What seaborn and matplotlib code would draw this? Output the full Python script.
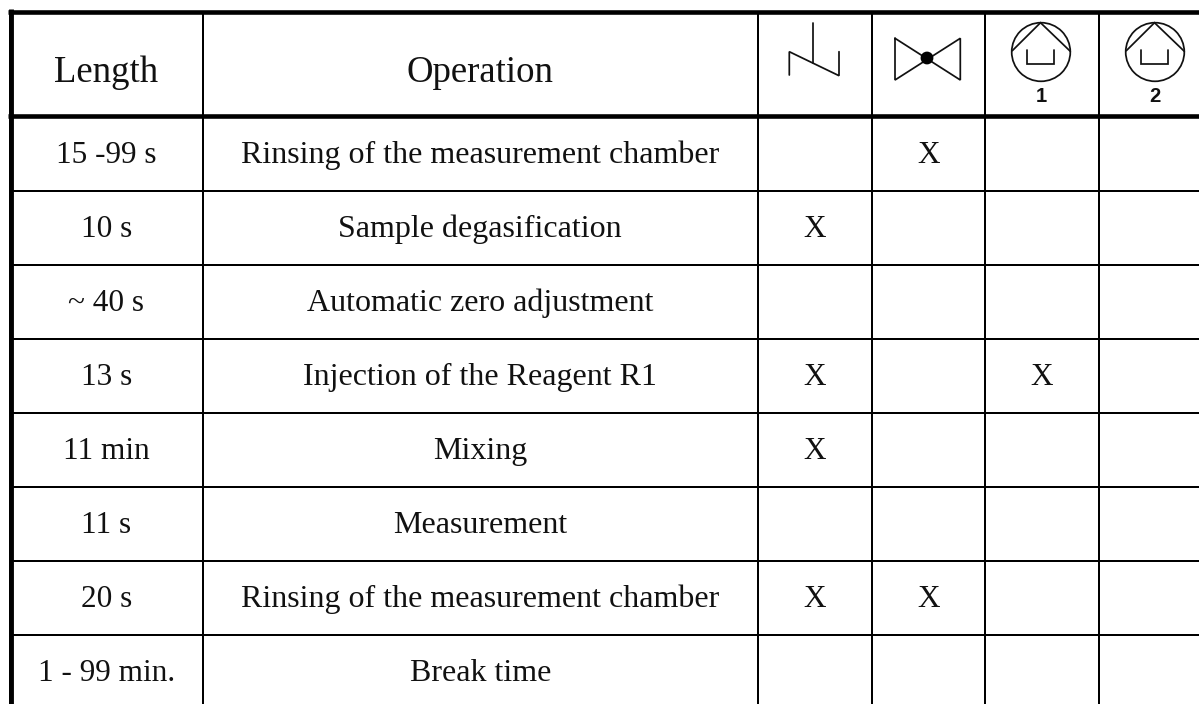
import numpy as np
import seaborn as sns
from matplotlib import pyplot as plt
from matplotlib.colors import ListedColormap
from matplotlib.patches import Circle

lengths = ["15 -99 s", "10 s", "~ 40 s", "13 s", "11 min", "11 s", "20 s", "1 - 99 min."]
operations = [
    "Rinsing of the measurement chamber",
    "Sample degasification",
    "Automatic zero adjustment",
    "Injection of the Reagent R1",
    "Mixing",
    "Measurement",
    "Rinsing of the measurement chamber",
    "Break time",
]
mixer = ["", "X", "", "X", "X", "", "X", ""]
valve = ["X", "", "", "", "", "", "X", ""]
pump_1 = ["", "", "", "X", "", "", "", ""]
pump_2 = ["", "", "", "", "", "", "", ""]
headers = ["Length", "Operation"]

WIDTH, HEIGHT = 1199, 704
INK = "#000000"
THIN = 1.2
THICK = 3.3


def block(fig, x0, x1, y0, y1, labels, size, shift=0.0):
    # one heatmap per group of equal columns, placed in pixel positions
    rect = [x0 / WIDTH, 1 - y1 / HEIGHT, (x1 - x0) / WIDTH, (y1 - y0) / HEIGHT]
    ax = fig.add_axes(rect)
    labels = np.array(labels, dtype=object)
    sns.heatmap(
        np.zeros(labels.shape),
        annot=labels,
        fmt="",
        cmap=ListedColormap(["white"]),
        cbar=False,
        linewidths=THIN,
        linecolor=INK,
        xticklabels=False,
        yticklabels=False,
        annot_kws={"fontsize": size, "color": "#111111", "family": "Liberation Serif"},
        ax=ax,
    )
    ax.collections[0].set_clip_on(False)
    row_px = (y1 - y0) / labels.shape[0]
    for text in ax.texts:
        text.set_clip_on(False)
        text.set_y(text.get_position()[1] + shift / row_px)
    return ax


def draw_symbols(ax):
    kw = {"color": "#111111", "lw": 1.25, "solid_joinstyle": "miter"}
    # drain
    ax.plot([789.3, 789.3, 839, 839], [75, 51.7, 75.7, 51.7], **kw)
    ax.plot([813, 813], [22.7, 62.7], **kw)
    # valve
    ax.plot([895, 960.3, 960.3, 895, 895], [38.3, 80, 38.3, 80, 38.3], **kw)
    ax.add_patch(Circle((927, 58), 5.7, color=INK, zorder=3))
    # pumps
    for dx, label in ((0, "1"), (114, "2")):
        ax.add_patch(Circle((1041 + dx, 52), 29.3, fill=False, ec="#111111", lw=1.25))
        ax.plot(np.array([1012.3, 1040.5, 1070.3]) + dx, [50.7, 22.7, 51.3], **kw)
        ax.plot(np.array([1026.7, 1026.7, 1054.3, 1054.3]) + dx, [50, 64.3, 64.3, 50], **kw)
        ax.text(1041 + dx, 97, label, ha="center", va="center", fontsize=14.5,
                fontweight="bold", family="Liberation Sans", color="#111111")


def main() -> None:
    sns.set_theme(style="white")
    fig = plt.figure(figsize=(WIDTH / 100, HEIGHT / 100), dpi=100, facecolor="white")

    top, head, bottom = 11.5, 115.5, 708.7
    row_top = bottom - 8 * 74
    block(fig, 10.5, 202.5, top, head, [[headers[0]]], 26.5, shift=9)
    block(fig, 202.5, 758, top, head, [[headers[1]]], 26.5, shift=9)
    block(fig, 758, 1212, top, head, [["", "", "", ""]], 20)

    block(fig, 10.5, 202.5, row_top, bottom, [[v] for v in lengths], 22.5, shift=2)
    block(fig, 202.5, 758, row_top, bottom, [[v] for v in operations], 23, shift=2)
    marks = list(zip(mixer, valve, pump_1, pump_2))
    block(fig, 758, 1212, row_top, bottom, [list(m) for m in marks], 22.5, shift=2)

    overlay = fig.add_axes([0, 0, 1, 1])
    overlay.set_xlim(0, WIDTH)
    overlay.set_ylim(HEIGHT, 0)
    overlay.axis("off")
    overlay.patch.set_alpha(0)
    overlay.plot([8.3, WIDTH], [top, top], color=INK, lw=THICK, solid_capstyle="butt")
    overlay.plot([8.3, WIDTH], [head, head], color=INK, lw=THICK, solid_capstyle="butt")
    overlay.plot([10.8, 10.8], [9, HEIGHT], color=INK, lw=THICK + 0.2, solid_capstyle="butt")
    draw_symbols(overlay)

    fig.savefig("out.png", dpi=100)
    plt.close(fig)


if __name__ == "__main__":
    main()
